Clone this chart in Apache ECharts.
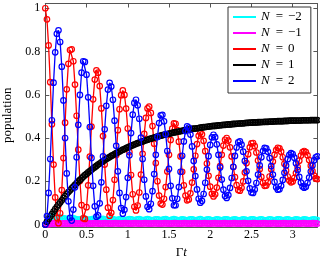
<!DOCTYPE html>
<html><head><meta charset="utf-8">
<script src="https://cdn.jsdelivr.net/npm/echarts@6/dist/echarts.min.js"></script>
<style>html,body{margin:0;padding:0;background:#fff}#c{width:320px;height:259px}</style>
</head><body><div id="c"></div>
<script>
const time = [
0,0.02,0.04,0.06,0.08,0.1,0.12,0.14,0.16,0.18,
0.2,0.22,0.24,0.26,0.28,0.3,0.32,0.34,0.36,0.38,
0.4,0.42,0.44,0.46,0.48,0.5,0.52,0.54,0.56,0.58,
0.6,0.62,0.64,0.66,0.68,0.7,0.72,0.74,0.76,0.78,
0.8,0.82,0.84,0.86,0.88,0.9,0.92,0.94,0.96,0.98,
1,1.02,1.04,1.06,1.08,1.1,1.12,1.14,1.16,1.18,
1.2,1.22,1.24,1.26,1.28,1.3,1.32,1.34,1.36,1.38,
1.4,1.42,1.44,1.46,1.48,1.5,1.52,1.54,1.56,1.58,
1.6,1.62,1.64,1.66,1.68,1.7,1.72,1.74,1.76,1.78,
1.8,1.82,1.84,1.86,1.88,1.9,1.92,1.94,1.96,1.98,
2,2.02,2.04,2.06,2.08,2.1,2.12,2.14,2.16,2.18,
2.2,2.22,2.24,2.26,2.28,2.3,2.32,2.34,2.36,2.38,
2.4,2.42,2.44,2.46,2.48,2.5,2.52,2.54,2.56,2.58,
2.6,2.62,2.64,2.66,2.68,2.7,2.72,2.74,2.76,2.78,
2.8,2.82,2.84,2.86,2.88,2.9,2.92,2.94,2.96,2.98,
3,3.02,3.04,3.06,3.08,3.1,3.12,3.14,3.16,3.18,
3.2,3.22,3.24,3.26,3.28,3.3];

const popM2 = [
0.000,0.008,0.019,0.030,0.037,0.040,0.039,0.036,0.033,0.031,
0.030,0.028,0.027,0.025,0.024,0.025,0.027,0.028,0.026,0.024,
0.022,0.023,0.025,0.027,0.026,0.023,0.021,0.022,0.024,0.026,
0.025,0.022,0.020,0.021,0.024,0.026,0.024,0.021,0.020,0.022,
0.025,0.025,0.022,0.020,0.021,0.024,0.025,0.023,0.020,0.020,
0.023,0.025,0.024,0.021,0.019,0.021,0.024,0.025,0.022,0.020,
0.020,0.023,0.025,0.023,0.020,0.019,0.022,0.024,0.024,0.021,
0.019,0.021,0.024,0.025,0.022,0.019,0.020,0.023,0.025,0.023,
0.020,0.019,0.022,0.024,0.023,0.020,0.019,0.021,0.024,0.024,
0.021,0.019,0.020,0.023,0.025,0.022,0.019,0.020,0.023,0.024,
0.022,0.019,0.019,0.022,0.024,0.023,0.020,0.019,0.021,0.024,
0.024,0.021,0.019,0.020,0.023,0.024,0.022,0.019,0.019,0.022,
0.024,0.023,0.020,0.019,0.021,0.024,0.024,0.021,0.019,0.020,
0.023,0.024,0.022,0.019,0.019,0.022,0.024,0.023,0.020,0.019,
0.021,0.024,0.024,0.021,0.019,0.020,0.023,0.024,0.022,0.019,
0.019,0.022,0.024,0.023,0.020,0.019,0.021,0.024,0.023,0.020,
0.019,0.020,0.023,0.024,0.022,0.020];

const popM1 = [
0.000,0.001,0.002,0.003,0.004,0.005,0.005,0.005,0.004,0.004,
0.004,0.005,0.005,0.005,0.004,0.004,0.004,0.005,0.006,0.005,
0.005,0.004,0.004,0.005,0.006,0.006,0.005,0.004,0.004,0.005,
0.006,0.006,0.005,0.004,0.004,0.005,0.006,0.006,0.005,0.004,
0.004,0.005,0.006,0.006,0.005,0.004,0.004,0.005,0.006,0.006,
0.005,0.004,0.004,0.005,0.006,0.006,0.005,0.004,0.004,0.005,
0.006,0.006,0.005,0.004,0.004,0.005,0.006,0.006,0.005,0.004,
0.004,0.005,0.006,0.006,0.005,0.004,0.004,0.005,0.006,0.006,
0.005,0.004,0.004,0.005,0.006,0.006,0.005,0.004,0.004,0.005,
0.006,0.006,0.005,0.004,0.004,0.005,0.006,0.006,0.005,0.004,
0.004,0.005,0.006,0.006,0.005,0.004,0.004,0.005,0.006,0.006,
0.005,0.004,0.004,0.005,0.006,0.006,0.005,0.004,0.004,0.005,
0.006,0.006,0.005,0.004,0.004,0.005,0.006,0.006,0.005,0.004,
0.004,0.005,0.006,0.006,0.005,0.004,0.004,0.005,0.006,0.006,
0.005,0.004,0.004,0.005,0.006,0.006,0.005,0.004,0.004,0.005,
0.006,0.006,0.005,0.004,0.004,0.005,0.006,0.006,0.005,0.004,
0.004,0.005,0.006,0.006,0.005,0.004];

const pop0 = [
1.000,0.949,0.828,0.658,0.464,0.277,0.125,0.031,0.006,0.052,
0.159,0.307,0.471,0.625,0.743,0.807,0.810,0.755,0.647,0.503,
0.346,0.201,0.090,0.029,0.026,0.080,0.181,0.314,0.453,0.579,
0.670,0.713,0.702,0.640,0.537,0.409,0.277,0.161,0.078,0.041,
0.054,0.113,0.207,0.321,0.436,0.533,0.598,0.620,0.599,0.536,
0.444,0.335,0.229,0.140,0.082,0.065,0.088,0.148,0.231,0.327,
0.419,0.493,0.537,0.545,0.516,0.455,0.374,0.284,0.200,0.134,
0.097,0.092,0.119,0.173,0.245,0.322,0.391,0.443,0.468,0.466,
0.436,0.383,0.315,0.244,0.181,0.134,0.112,0.116,0.144,0.194,
0.255,0.318,0.372,0.410,0.425,0.417,0.387,0.339,0.282,0.225,
0.175,0.142,0.130,0.140,0.171,0.216,0.270,0.322,0.365,0.392,
0.400,0.388,0.357,0.315,0.266,0.219,0.182,0.160,0.156,0.170,
0.199,0.240,0.284,0.325,0.357,0.375,0.377,0.362,0.333,0.296,
0.256,0.220,0.193,0.179,0.180,0.195,0.222,0.256,0.291,0.322,
0.344,0.355,0.352,0.337,0.311,0.281,0.249,0.222,0.203,0.195,
0.199,0.215,0.238,0.267,0.295,0.319,0.335,0.340,0.335,0.320,
0.298,0.272,0.247,0.226,0.213,0.210];

const pop1 = [
0.000,0.013,0.025,0.037,0.048,0.060,0.071,0.082,0.092,0.102,
0.112,0.122,0.131,0.141,0.150,0.158,0.167,0.175,0.183,0.191,
0.199,0.206,0.213,0.221,0.228,0.234,0.241,0.247,0.253,0.260,
0.265,0.271,0.277,0.282,0.288,0.293,0.298,0.303,0.308,0.312,
0.317,0.321,0.326,0.330,0.334,0.338,0.342,0.346,0.349,0.353,
0.357,0.360,0.363,0.367,0.370,0.373,0.376,0.379,0.382,0.384,
0.387,0.390,0.392,0.395,0.397,0.400,0.402,0.404,0.406,0.409,
0.411,0.413,0.415,0.417,0.418,0.420,0.422,0.424,0.426,0.427,
0.429,0.430,0.432,0.433,0.435,0.436,0.438,0.439,0.440,0.442,
0.443,0.444,0.445,0.446,0.448,0.449,0.450,0.451,0.452,0.453,
0.454,0.455,0.456,0.456,0.457,0.458,0.459,0.460,0.461,0.461,
0.462,0.463,0.463,0.464,0.465,0.465,0.466,0.467,0.467,0.468,
0.468,0.469,0.470,0.470,0.471,0.471,0.472,0.472,0.472,0.473,
0.473,0.474,0.474,0.475,0.475,0.475,0.476,0.476,0.476,0.477,
0.477,0.478,0.478,0.478,0.478,0.479,0.479,0.479,0.480,0.480,
0.480,0.480,0.481,0.481,0.481,0.481,0.482,0.482,0.482,0.482,
0.482,0.483,0.483,0.483,0.483,0.483];

const pop2 = [
0.000,0.039,0.146,0.303,0.482,0.656,0.796,0.882,0.898,0.844,
0.730,0.574,0.400,0.236,0.107,0.031,0.018,0.069,0.172,0.311,
0.461,0.599,0.702,0.755,0.752,0.693,0.588,0.451,0.308,0.179,
0.084,0.036,0.042,0.098,0.195,0.315,0.440,0.549,0.624,0.655,
0.638,0.577,0.480,0.364,0.246,0.146,0.076,0.050,0.068,0.127,
0.216,0.320,0.423,0.508,0.562,0.577,0.551,0.489,0.402,0.303,
0.207,0.130,0.082,0.071,0.096,0.154,0.233,0.322,0.405,0.469,
0.505,0.507,0.477,0.418,0.340,0.257,0.179,0.121,0.089,0.089,
0.119,0.173,0.244,0.318,0.384,0.432,0.454,0.448,0.416,0.361,
0.294,0.224,0.162,0.119,0.101,0.109,0.141,0.193,0.254,0.316,
0.368,0.403,0.415,0.404,0.371,0.322,0.264,0.208,0.161,0.132,
0.123,0.136,0.169,0.215,0.267,0.317,0.356,0.380,0.384,0.369,
0.337,0.294,0.246,0.202,0.167,0.148,0.146,0.162,0.192,0.231,
0.273,0.311,0.340,0.354,0.352,0.336,0.307,0.270,0.231,0.197,
0.172,0.161,0.163,0.179,0.206,0.239,0.273,0.302,0.322,0.330,
0.325,0.309,0.283,0.252,0.220,0.194,0.176,0.170,0.175,0.192,
0.217,0.245,0.273,0.297,0.311,0.315];

const seriesNames = ['−2', '−1', '0', '1', '2'];
const seriesValues = [popM2, popM1, pop0, pop1, pop2];
const seriesColors = ['#00ffff', '#ff00ff', '#ff0000', '#000000', '#0000ff'];
const xTicks = [0, 0.5, 1, 1.5, 2, 2.5, 3];
const yTicks = [0, 0.2, 0.4, 0.6, 0.8, 1];

const FONT = 'Liberation Serif';
const chart = echarts.init(document.getElementById('c'), null, {renderer: 'canvas'});

const series = seriesNames.map((n, k) => ({
  name: n,
  type: 'line',
  data: time.map((t, i) => [t, seriesValues[k][i]]),
  symbol: 'circle',
  symbolSize: 5.5,
  showSymbol: true,
  showAllSymbol: true,
  lineStyle: {color: seriesColors[k], width: 1.3},
  itemStyle: {color: 'rgba(0,0,0,0)', borderColor: seriesColors[k], borderWidth: 1.2},
  emphasis: {disabled: true},
  animation: false,
  z: 2 + k
}));

const axisColor = '#555';
function frameAxis(extra) {
  return Object.assign({
    type: 'value',
    axisLine: {show: true, onZero: false, lineStyle: {color: axisColor, width: 1}},
    splitLine: {show: false},
  }, extra);
}

chart.setOption({
  animation: false,
  backgroundColor: '#fff',
  grid: {left: 45.3, right: 2.6, top: 3.5, bottom: 31.9, containLabel: false, outerBoundsMode: 'none'},
  xAxis: [
    frameAxis({
      min: 0, max: 3.3, position: 'bottom',
      axisTick: {show: true, inside: true, length: 4, customValues: xTicks, lineStyle: {color: axisColor}},
      axisLabel: {customValues: xTicks, margin: 2, color: '#000', fontFamily: FONT, fontSize: 12},
      name: '{r|Γ}{i|t}', nameLocation: 'middle', nameGap: 16,
      nameTextStyle: {color: '#000', rich: {
        r: {fontFamily: FONT, fontSize: 13, color: '#000'},
        i: {fontFamily: FONT, fontSize: 13, fontStyle: 'italic', color: '#000'}
      }}
    }),
    frameAxis({
      min: 0, max: 3.3, position: 'top',
      axisTick: {show: true, inside: true, length: 4, customValues: xTicks, lineStyle: {color: axisColor}},
      axisLabel: {show: false}
    })
  ],
  yAxis: [
    frameAxis({
      min: -0.012, max: 1.022, position: 'left',
      axisTick: {show: true, inside: true, length: 4, customValues: yTicks, lineStyle: {color: axisColor}},
      axisLabel: {customValues: yTicks, margin: 5, color: '#000', fontFamily: FONT, fontSize: 12},
      name: 'population', nameLocation: 'middle', nameGap: 27,
      nameTextStyle: {color: '#000', fontFamily: FONT, fontSize: 13}
    }),
    frameAxis({
      min: -0.012, max: 1.022, position: 'right',
      axisTick: {show: true, inside: true, length: 4, customValues: yTicks, lineStyle: {color: axisColor}},
      axisLabel: {show: false}
    })
  ],
  legend: {
    orient: 'vertical', left: 228, top: 7,
    padding: [2, 9, 4, 5], itemGap: 0,
    itemWidth: 23, itemHeight: 2, icon: 'rect',
    borderColor: '#333', borderWidth: 1, backgroundColor: '#fff',
    selectedMode: false,
    formatter: n => '{i|N}{e|=}{t|' + n + '}',
    textStyle: {fontFamily: FONT, fontSize: 13, lineHeight: 16, color: '#000', rich: {
      i: {fontFamily: FONT, fontSize: 13, fontStyle: 'italic', lineHeight: 16, color: '#000', padding: [0, 1, 0, 0]},
      e: {fontFamily: FONT, fontSize: 13, lineHeight: 16, color: '#000', padding: [0, 5, 0, 5]},
      t: {fontFamily: FONT, fontSize: 13, lineHeight: 16, color: '#000'}
    }},
    data: seriesNames.map((n, k) => ({name: n, itemStyle: {color: seriesColors[k], borderWidth: 0}}))
  },
  series: series
});
</script></body></html>
